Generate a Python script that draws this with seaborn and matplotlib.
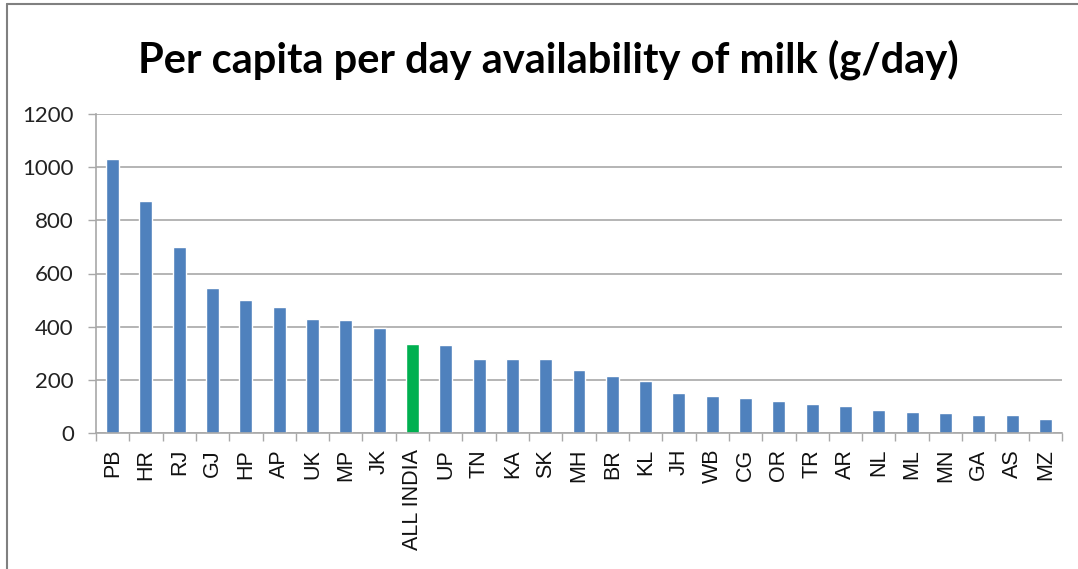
import matplotlib
matplotlib.use("Agg")
import matplotlib.pyplot as plt
from matplotlib.lines import Line2D
import seaborn as sns
import pandas as pd
import numpy as np

states = ["PB", "HR", "RJ", "GJ", "HP", "AP", "UK", "MP", "JK", "ALL INDIA",
          "UP", "TN", "KA", "SK", "MH", "BR", "KL", "JH", "WB", "CG",
          "OR", "TR", "AR", "NL", "ML", "MN", "GA", "AS", "MZ"]
milk = [1030, 871, 701, 544, 502, 473, 430, 426, 394, 335,
        331, 278, 278, 278, 236, 216, 197, 149, 140, 130,
        122, 108, 103, 88, 79, 74, 69, 69, 54]
yticks = [0, 200, 400, 600, 800, 1000, 1200]
title = "Per capita per day availability of milk (g/day)"

blue = "#4F81BD"
green = "#00B050"
palette = {s: (green if s == "ALL INDIA" else blue) for s in states}

df = pd.DataFrame({"state": states, "milk": milk})

sns.set_theme(style="white")
plt.rcParams["font.family"] = ["Liberation Sans", "DejaVu Sans"]

fig = plt.figure(figsize=(10.78, 5.69), dpi=100)
ax = fig.add_axes([96/1078, 1-433/569, (1062-96)/1078, (433-114)/569])

sns.barplot(data=df, x="state", y="milk", hue="state", palette=palette,
            order=states, hue_order=states, dodge=False, legend=False,
            width=0.39, saturation=1, ax=ax)

ax.set_xlim(-0.5, len(states) - 0.5)
ax.set_ylim(0, 1200)
ax.set_yticks(yticks)
ax.set_yticklabels([str(v) for v in yticks], fontsize=16, color="#222222",
                   family=["Lato", "DejaVu Sans"])
ax.yaxis.grid(True, color="#a8a8a8", linewidth=1.2)
ax.set_axisbelow(True)
ax.tick_params(axis="y", length=6, width=1, color="#a8a8a8", pad=10, left=True)

ax.set_xticks(range(len(states)))
ax.set_xticklabels(states, rotation=90, fontsize=15.5, color="#111111")
ax.set_xticks(np.arange(-0.5, len(states), 1.0), minor=True)
ax.tick_params(axis="x", which="major", length=0, pad=11.5)
ax.tick_params(axis="x", which="minor", length=6, width=1, color="#a8a8a8", bottom=True)

for side in ["top", "right"]:
    ax.spines[side].set_visible(False)
for side in ["left", "bottom"]:
    ax.spines[side].set_color("#a8a8a8")
    ax.spines[side].set_linewidth(1.2)

ax.set_xlabel("")
ax.set_ylabel("")

fig.text(548/1078, 1-60/569, title, ha="center", va="center",
         fontsize=30, fontweight="bold", family=["Lato", "DejaVu Sans"], color="#000000")

# outer chart frame (top and left edges visible)
fig.add_artist(Line2D([7/1078, 1.0], [1-4/569, 1-4/569], transform=fig.transFigure,
                      color="#808080", linewidth=1.5))
fig.add_artist(Line2D([7/1078, 7/1078], [0.0, 1-4/569], transform=fig.transFigure,
                      color="#808080", linewidth=1.5))

fig.savefig("out.png", dpi=100, facecolor="white")
